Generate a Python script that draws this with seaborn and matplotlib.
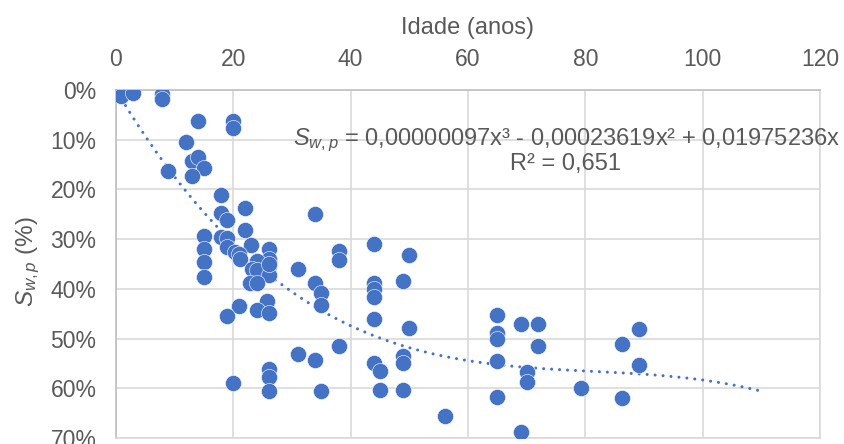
import matplotlib
matplotlib.use("Agg")
import matplotlib.pyplot as plt
import matplotlib.ticker as mticker
import numpy as np
import pandas as pd
import seaborn as sns

# ---- data (age in years, S_w,p as fraction) ----
idade = [0.9, 2.9, 7.9, 7.9, 13.9, 19.9, 19.9, 12.0, 12.9, 13.9, 15.0, 12.9, 8.9,
         17.9, 17.9, 18.9, 22.0, 22.0, 15.0, 17.9, 19.0, 23.0, 26.0, 34.0, 19.0,
         15.0, 20.2, 20.9, 21.2, 26.0, 15.0, 24.0, 26.0, 23.2, 24.0, 26.0, 15.0,
         22.9, 24.0, 31.0, 34.0, 35.0, 35.0, 25.8, 20.9, 24.0, 26.0, 18.9, 31.0,
         34.0, 26.0, 26.0, 19.9, 26.0, 35.0, 38.0, 38.0, 44.0, 50.0, 44.0, 44.0,
         44.0, 49.0, 44.0, 50.0, 38.0, 44.0, 45.0, 49.0, 49.0, 45.0, 49.0, 56.0,
         65.0, 65.0, 65.0, 69.0, 72.0, 72.0, 65.0, 70.0, 70.0, 65.0, 69.0, 79.3,
         86.3, 89.2, 89.2, 86.3, 26.0]
swp = [0.012, 0.006, 0.008, 0.019, 0.062, 0.062, 0.076, 0.104, 0.142, 0.135, 0.156,
       0.172, 0.162, 0.211, 0.248, 0.262, 0.238, 0.282, 0.293, 0.295, 0.298, 0.312,
       0.319, 0.250, 0.315, 0.320, 0.325, 0.330, 0.339, 0.339, 0.345, 0.344, 0.355,
       0.360, 0.362, 0.372, 0.376, 0.389, 0.389, 0.360, 0.388, 0.408, 0.433, 0.425,
       0.434, 0.443, 0.449, 0.455, 0.532, 0.543, 0.561, 0.577, 0.589, 0.605, 0.605,
       0.323, 0.342, 0.310, 0.332, 0.389, 0.401, 0.416, 0.385, 0.460, 0.479, 0.515,
       0.550, 0.565, 0.535, 0.550, 0.604, 0.604, 0.655, 0.453, 0.488, 0.500, 0.471,
       0.471, 0.515, 0.545, 0.568, 0.587, 0.617, 0.687, 0.599, 0.511, 0.481, 0.553,
       0.620, 0.349]

# trendline coefficients (cubic through origin) as stated in the chart
coef = [0.00000097, -0.00023619, 0.01975236, 0.0]
trend_range = [0.9, 109.5]

x_ticks = [0, 20, 40, 60, 80, 100, 120]
y_ticks = [0.0, 0.1, 0.2, 0.3, 0.4, 0.5, 0.6, 0.7]

sns.set_theme(style="white")
plt.rcParams["font.family"] = ["Liberation Sans", "DejaVu Sans"]
plt.rcParams["mathtext.fontset"] = "custom"
plt.rcParams["mathtext.rm"] = "Liberation Sans"
plt.rcParams["mathtext.it"] = "Liberation Sans:italic"

TXT = "#595959"
BLUE = "#4472C4"
GRID = "#D9D9D9"

fig = plt.figure(figsize=(8.44, 4.44), dpi=100)
ax = fig.add_axes([116 / 844, 1 - 438 / 444, (820 - 116) / 844, (438 - 90) / 444])

df = pd.DataFrame({"idade": idade, "swp": swp})
xt = np.linspace(trend_range[0], trend_range[1], 300)
trend = pd.DataFrame({"idade": xt, "swp": np.polyval(coef, xt)})

sns.lineplot(data=trend, x="idade", y="swp", ax=ax, color=BLUE, linewidth=2.2,
             linestyle=(0, (0.01, 2.6)), dash_capstyle="round", zorder=2)
sns.scatterplot(data=df, x="idade", y="swp", ax=ax, color=BLUE, s=135,
                edgecolor="white", linewidth=0.4, zorder=3)

ax.set_xlim(0, 120)
ax.set_ylim(0.7, 0.0)
ax.set_xticks(x_ticks)
ax.set_yticks(y_ticks)
ax.yaxis.set_major_formatter(mticker.FuncFormatter(lambda v, p: f"{v * 100:.0f}%"))
ax.xaxis.tick_top()
ax.xaxis.set_label_position("top")
ax.tick_params(axis="both", length=0, labelsize=16.5, labelcolor=TXT, pad=14)
ax.grid(True, color=GRID, linewidth=1.2)
ax.set_axisbelow(True)
for side in ["left", "top"]:
    ax.spines[side].set_color("#BFBFBF")
    ax.spines[side].set_linewidth(1.2)
for side in ["right", "bottom"]:
    ax.spines[side].set_color(GRID)
    ax.spines[side].set_linewidth(1.2)

ax.set_xlabel("Idade (anos)", fontsize=17, color=TXT, labelpad=10)
ax.set_ylabel("")
fig.text(28 / 844, 1 - 262 / 444, r"$S_{w,p}$ (%)", rotation=90, ha="center",
         va="center", fontsize=17.5, color=TXT)

fig.text(840 / 844, 1 - 140 / 444,
         r"$S_{w,p}$ = 0,00000097x³ - 0,00023619x² + 0,01975236x",
         ha="right", va="center", fontsize=17, color=TXT)
fig.text(566 / 844, 1 - 164 / 444, "R² = 0,651", ha="center", va="center",
         fontsize=17, color=TXT)

fig.savefig("out.png", dpi=100)
